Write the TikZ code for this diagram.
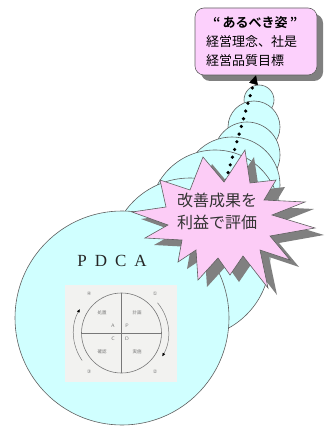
\documentclass[tikz,border=0pt]{standalone}
\usepackage{fontspec}
\newfontfamily\jpfont[BoldFont={Noto Sans CJK JP Bold}]{Noto Sans CJK JP}
\newfontfamily\pdcafont{Liberation Serif}
\newfontfamily\symfont{DejaVu Sans}
\usetikzlibrary{arrows.meta,shadows}
\definecolor{ringcyan}{RGB}{208,255,255}
\definecolor{burstpink}{RGB}{252,204,246}
\definecolor{notepink}{RGB}{252,208,252}
\definecolor{edgegray}{RGB}{95,95,95}
\definecolor{shadegray}{RGB}{128,128,128}
\definecolor{cardgray}{RGB}{242,242,240}
\definecolor{inkgray}{RGB}{120,120,120}

\begin{document}
\begin{tikzpicture}[x=1pt,y=-1pt,
  ring/.style={fill=ringcyan,draw=edgegray,line width=0.6pt},
  tinyword/.style={font=\jpfont\fontsize{4.5}{5}\selectfont,text=inkgray,inner sep=0pt},
  tinyletter/.style={font=\sffamily\fontsize{5}{5}\selectfont,text=inkgray,inner sep=0pt},
  numtag/.style={font=\symfont\fontsize{5}{5}\selectfont,text=inkgray,inner sep=0pt},
  cycarrow/.style={draw=inkgray,line width=0.5pt,-{Latex[length=3.5pt,width=3pt,black]}}]
\useasboundingbox (0,0) rectangle (326,430);
% rings, smallest first so that the larger ones sit in front
\foreach \cx/\cy/\r in {259/100/15, 254/127/26, 247/155/33, 232/185/48, 215/215/65, 190/258/80, 122/318/107} { \draw[ring] (\cx,\cy) circle[radius=\r]; }
\node[fill=notepink,draw=edgegray,line width=0.6pt,rounded corners=9pt,minimum width=122pt,minimum height=67pt,text width=100pt,align=left,
  font=\jpfont\fontsize{13}{19}\selectfont,drop shadow={shadow xshift=6pt,shadow yshift=-6pt,fill=shadegray,opacity=1}] (ideal) at (256,41.5)
  {\hspace*{7pt}{\bfseries “\,あるべき姿\,”}\\経営理念、社是\\経営品質目標};
\coordinate (burst) at (217,211);
\draw[line width=3.6pt,line cap=round,dash pattern=on 0pt off 8pt,-{Triangle[length=9pt,width=9pt,line width=0.4pt]}] (burst) -- (ideal.south);
% starburst with its shadow
\foreach \dx/\dy/\col/\ed in {9/7/shadegray/none, 0/0/burstpink/edgegray} {
  \filldraw[fill=\col,draw=\ed,line width=0.6pt,shift={(\dx,\dy)}] (132,212) -- (166,207) -- (160,180) -- (190,190) -- (203,157) -- (224,182) -- (245,150) -- (250,183) -- (276,180) -- (264,200) -- (305,202) -- (272,215) -- (315,228) -- (270,236) -- (290,260) -- (260,250) -- (268,288) -- (243,256) -- (230,275) -- (218,258) -- (198,280) -- (196,250) -- (178,262) -- (182,240) -- (145,238) -- (168,225) -- cycle;
}
\node[font=\jpfont\fontsize{16}{22}\selectfont,text=black!80,align=center] (gain) at (burst) {改善成果を\\利益で評価};
% PDCA cycle card
\node[font=\pdcafont\fontsize{17}{17}\selectfont,text=black!85] (pdca) at (112,261) {P\hspace{8pt}D\hspace{8pt}C\hspace{8pt}A};
\node[fill=cardgray,minimum width=112pt,minimum height=97pt,inner sep=0pt] (card) at (121,333.5) {};
\node[draw=inkgray,line width=0.6pt,circle,minimum size=80pt,inner sep=0pt] (wheel) at (121.5,333) {};
\draw[inkgray,line width=0.6pt] (wheel.north) -- (wheel.south);
\draw[inkgray,line width=0.6pt] (wheel.west) -- (wheel.east);
\foreach \x/\y/\l/\k in {137/313/計画/P, 137/352/実施/D, 102/352/確認/C, 102/313/処置/A} { \node[tinyword] (word\k) at (\x,\y) {\l}; }
\foreach \x/\y/\k in {127/326/P, 127/339/D, 113/339/C, 113/326/A} { \node[tinyletter] (letter\k) at (\x,\y) {\k}; }
\foreach \x/\y/\l [count=\i] in {155/294/①, 155/372/②, 89/372/③, 89/294/④} { \node[numtag] (num\i) at (\x,\y) {\l}; }
\draw[cycarrow] (wheel.center) ++(40:47pt) arc[start angle=40,end angle=-30,radius=47pt];
\draw[cycarrow] (wheel.center) ++(215:48pt) arc[start angle=215,end angle=150,radius=48pt];
\end{tikzpicture}
\end{document}
